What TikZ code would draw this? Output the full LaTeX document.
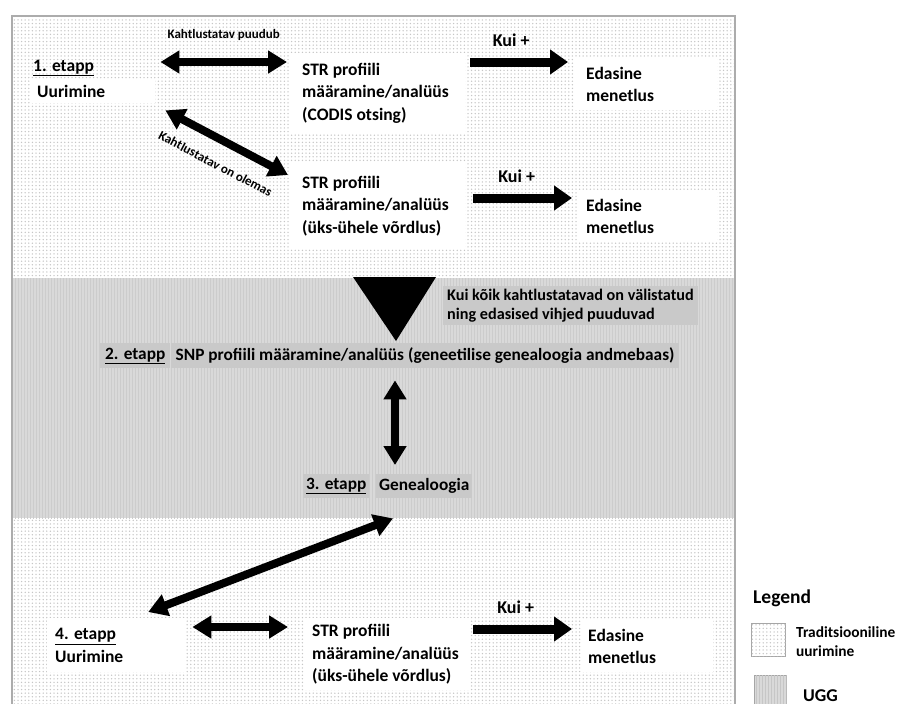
\documentclass[tikz,border=0pt]{standalone}
\usepackage{fontspec}
\setmainfont{Carlito}
\usetikzlibrary{arrows.meta,patterns,positioning}

\pgfdeclarepatternformonly{punktid}{\pgfqpoint{-1pt}{-1pt}}{\pgfqpoint{1pt}{1pt}}{\pgfqpoint{3.6pt}{3.6pt}}{%
    \pgfpathcircle{\pgfqpoint{0pt}{0pt}}{0.75pt}\pgfusepath{fill}}

\newcommand\suurkiri{\fontsize{17.5}{22.5}\selectfont\bfseries}
\newcommand\keskkiri{\fontsize{17.3}{20}\selectfont\bfseries}
\newcommand\kuikiri{\fontsize{18}{20}\selectfont\bfseries}
\newcommand\vaikekiri{\fontsize{13}{14}\selectfont\bfseries}

\tikzset{
    kast/.style={fill=white, anchor=north west, align=flush left, inner xsep=10pt, inner ysep=0pt, font=\suurkiri},
    hallkast/.style={fill=gray!42, anchor=north west, align=flush left, inner xsep=3pt, inner ysep=0pt, font=\keskkiri},
    nool/.style={line width=9pt, -{Triangle[length=18pt,width=24pt]}},
    topeltnool/.style={line width=8pt, {Triangle[length=19pt,width=22pt]}-{Triangle[length=19pt,width=22pt]}},
    taust/.style={pattern=punktid, pattern color=gray!45}
}

\begin{document}
\begin{tikzpicture}[x=1pt, y=-1pt]
    \useasboundingbox (0,0) rectangle (900,704);
    \fill[white] (12,16) rectangle (735,704);
    \fill[taust] (12,16) rectangle (735,278);
    \fill[gray!30] (12,278) rectangle (735,518);
    \fill[pattern=vertical lines, pattern color=gray!40] (12,278) rectangle (735,518);
    \fill[taust] (12,518) rectangle (735,704);
    \draw[gray!65, line width=1.3pt] (12,704) |- (735,16) -- (735,704);

    \path node[font=\suurkiri, anchor=base west, inner sep=0pt] (etapp1) at (33,71) {\underline{1. etapp}}
        node[kast, inner xsep=7pt, text width=111pt, minimum height=23pt] (uur1) at (30,80) {Uurimine}
        node[kast, inner xsep=12pt, text width=151pt, minimum height=80pt] (str1) at (290,53) {STR profiili\\määramine/analüüs\\(CODIS otsing)}
        node[kast, inner xsep=11pt, text width=120pt, minimum height=52pt] (ed1) at (575,58) {Edasine\\menetlus}
        node[kast, inner xsep=12pt, text width=151pt, minimum height=85pt] (str2) at (290,163) {STR profiili\\määramine/analüüs\\(üks-ühele võrdlus)}
        node[kast, inner xsep=9pt, text width=122pt, minimum height=52pt] (ed2) at (577,190) {Edasine\\menetlus};

    \fill (353,277) -- (436,277) -- (396,341) -- cycle;
    \path node[hallkast, font=\fontsize{16.2}{19}\selectfont\bfseries, inner xsep=4pt, inner ysep=3pt] (vihje) at (443,286) {Kui kõik kahtlustatavad on välistatud\\ning edasised vihjed puuduvad}
        node[hallkast, inner xsep=5pt, minimum height=25pt] (etapp2) at (100,343) {\underline{2. etapp}}
        node[hallkast, inner xsep=5pt, minimum height=25pt, right=0pt of etapp2] (snp) {SNP profiili määramine/analüüs (geneetilise genealoogia andmebaas)}
        node[hallkast, minimum height=24pt] (etapp3) at (303,474) {\underline{3. etapp}}
        node[hallkast, minimum height=24pt] (gen) at (376,474) {Genealoogia};

    \path node[kast, inner xsep=8pt, text width=122pt, minimum height=54pt] (uur4) at (47,618) {\underline{4. etapp}\\Uurimine}
        node[kast, inner xsep=7pt, text width=151pt, minimum height=72pt] (str3) at (305,618) {STR profiili\\määramine/analüüs\\(üks-ühele võrdlus)}
        node[kast, inner xsep=6pt, text width=119pt, minimum height=52pt] (ed3) at (582,620) {Edasine\\menetlus};

    \draw[topeltnool] ([shift={(5,-18)}]uur1.north east) -- node[above=14pt, font=\vaikekiri] {Kahtlustatav puudub} ([shift={(-3,9)}]str1.north west);
    \draw[topeltnool] ([shift={(10,7)}]uur1.south east) -- node[sloped, below=12pt, font=\vaikekiri] {Kahtlustatav on olemas} ([shift={(-2,12)}]str2.north west);
    \draw[nool] ([shift={(5,9)}]str1.north east) -- node[above=8pt, xshift=-8pt, font=\kuikiri] {Kui +} ([shift={(-7,4)}]ed1.north west);
    \draw[nool] ([shift={(8,35)}]str2.north east) -- node[above=8pt, xshift=-6pt, font=\kuikiri] {Kui +} ([shift={(-5,8)}]ed2.north west);
    \draw[topeltnool] ([xshift=19pt, yshift=-12pt]gen.north west |- snp.south) -- ([shift={(19,-9)}]gen.north west);
    \draw[topeltnool] ([shift={(32,-6)}]uur4.north) -- ([shift={(17,20)}]gen.south west);
    \draw[topeltnool] ([shift={(7,9)}]uur4.north east) -- ([shift={(-17,9)}]str3.north west);
    \draw[nool] ([shift={(3,11)}]str3.north east) -- node[above=8pt, xshift=-7pt, font=\kuikiri] {Kui +} ([shift={(-10,9)}]ed3.north west);

    % legend
    \node[font=\fontsize{19.5}{21}\selectfont\bfseries, anchor=base west, inner sep=0pt] (legend) at (753,603) {Legend};
    \node[draw=gray!70, line width=1pt, fill=white, postaction={taust}, minimum width=34pt, minimum height=33pt, anchor=north west] (tavaruut) at (751,623) {};
    \node[font=\fontsize{15.4}{19}\selectfont\bfseries, align=left, anchor=north west, inner sep=0pt] (tavatekst) at (796,626) {Traditsiooniline\\uurimine};
    \node[draw=gray!70, line width=1pt, fill=gray!30, postaction={pattern=vertical lines, pattern color=gray!45}, minimum width=32pt, minimum height=36pt, anchor=north west] (uggruut) at (754,675) {};
    \node[font=\fontsize{18}{20}\selectfont\bfseries, anchor=base west, inner sep=0pt] (uggtekst) at (803,701) {UGG};
\end{tikzpicture}
\end{document}
